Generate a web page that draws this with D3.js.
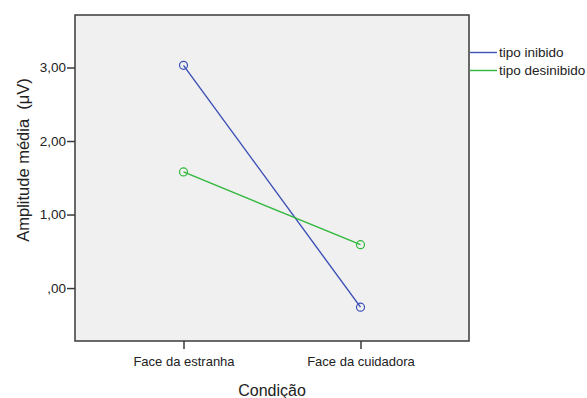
<!DOCTYPE html>
<html>
<head>
<meta charset="utf-8">
<script src="https://cdn.jsdelivr.net/npm/d3@7/dist/d3.min.js"></script>
<style>
  html, body { margin: 0; padding: 0; background: #ffffff; }
  svg { display: block; }
  text { font-family: "Liberation Sans", Arial, sans-serif; fill: #222; }
</style>
</head>
<body>
<svg id="chart" width="587" height="398"></svg>
<script>
// Condições (eixo X)
const categories = ["Face da estranha", "Face da cuidadora"];
// Amplitude média por tipo
const seriesNames = ["tipo inibido", "tipo desinibido"];
const inibido = [3.03, -0.26];
const desinibido = [1.58, 0.59];
const yTicks = [0, 1, 2, 3];
const yTickLabels = [",00", "1,00", "2,00", "3,00"];
const colors = ["#3c50b6", "#30b83c"];

const svg = d3.select("#chart");
const plot = { left: 75, top: 15, right: 469, bottom: 341 };

const x = d3.scalePoint()
  .domain(categories)
  .range([plot.left, plot.right])
  .padding(0.613);

const y = d3.scaleLinear()
  .domain([-0.72, 3.714])
  .range([plot.bottom, plot.top]);

// plot background
svg.append("rect")
  .attr("x", plot.left).attr("y", plot.top)
  .attr("width", plot.right - plot.left)
  .attr("height", plot.bottom - plot.top)
  .attr("fill", "#f0f0f0");

const series = [
  { name: seriesNames[0], values: inibido, color: colors[0] },
  { name: seriesNames[1], values: desinibido, color: colors[1] }
];

const line = d3.line()
  .x((d, i) => x(categories[i]))
  .y(d => y(d));

series.forEach(s => {
  svg.append("path")
    .datum(s.values)
    .attr("d", line)
    .attr("fill", "none")
    .attr("stroke", s.color)
    .attr("stroke-width", 1.4);
  svg.selectAll(null)
    .data(s.values)
    .enter().append("circle")
    .attr("cx", (d, i) => x(categories[i]))
    .attr("cy", d => y(d))
    .attr("r", 4)
    .attr("fill", "none")
    .attr("stroke", s.color)
    .attr("stroke-width", 1.2);
});

// frame
svg.append("rect")
  .attr("x", plot.left).attr("y", plot.top)
  .attr("width", plot.right - plot.left)
  .attr("height", plot.bottom - plot.top)
  .attr("fill", "none")
  .attr("stroke", "#3a3a3a")
  .attr("stroke-width", 1.5);

// axes
const yAxis = d3.axisLeft(y)
  .tickValues(yTicks)
  .tickFormat((d, i) => yTickLabels[i])
  .tickSize(8)
  .tickPadding(1);
const gy = svg.append("g")
  .attr("transform", `translate(${plot.left},0)`)
  .call(yAxis);
gy.select(".domain").remove();
gy.selectAll("line").attr("stroke", "#3a3a3a").attr("stroke-width", 1.5);
gy.selectAll("text").attr("font-size", 13.5).attr("fill", "#222")
  .style("font-family", "Liberation Sans, Arial, sans-serif");

const xAxis = d3.axisBottom(x).tickSize(8).tickPadding(8);
const gx = svg.append("g")
  .attr("transform", `translate(0,${plot.bottom})`)
  .call(xAxis);
gx.select(".domain").remove();
gx.selectAll("line").attr("stroke", "#3a3a3a").attr("stroke-width", 1.5);
gx.selectAll("text").attr("font-size", 13).attr("fill", "#222")
  .style("font-family", "Liberation Sans, Arial, sans-serif");

// axis titles
svg.append("text")
  .attr("transform", "translate(29,160) rotate(-90)")
  .attr("text-anchor", "middle")
  .attr("font-size", 16.5)
  .style("white-space", "pre")
  .text("Amplitude média  (μV)");

svg.append("text")
  .attr("x", 272)
  .attr("y", 396)
  .attr("text-anchor", "middle")
  .attr("font-size", 16)
  .text("Condição");

// legend
const legend = svg.append("g").attr("transform", "translate(470,52.5)");
series.forEach((s, i) => {
  const g = legend.append("g").attr("transform", `translate(0,${i * 18})`);
  g.append("line")
    .attr("x1", 0).attr("x2", 27)
    .attr("y1", 0).attr("y2", 0)
    .attr("stroke", s.color).attr("stroke-width", 1.4);
  g.append("text")
    .attr("x", 29).attr("y", 4.8)
    .attr("font-size", 13.5)
    .text(s.name);
});
</script>
</body>
</html>
